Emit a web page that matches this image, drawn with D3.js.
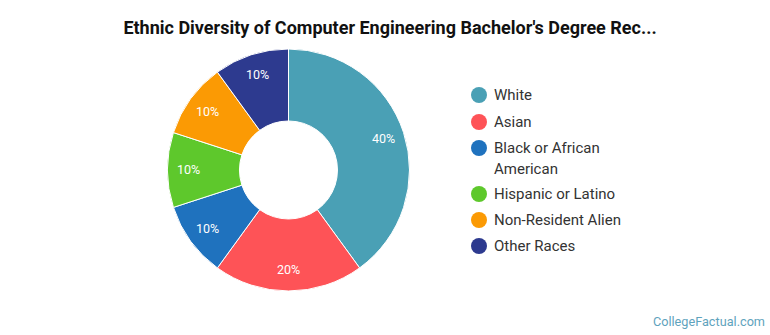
<!DOCTYPE html>
<html>
<head>
<meta charset="utf-8">
<script src="https://cdn.jsdelivr.net/npm/d3@7"></script>
<style>
  body { margin: 0; background: #fff; font-family: Roboto, "Open Sans", sans-serif; }
</style>
</head>
<body>
<div id="chart"></div>
<script>
// Chart data
var categories = ["White", "Asian", "Black or African American", "Hispanic or Latino", "Non-Resident Alien", "Other Races"];
var legendLines = [["White"], ["Asian"], ["Black or African", "American"], ["Hispanic or Latino"], ["Non-Resident Alien"], ["Other Races"]];
var shares = [40, 20, 10, 10, 10, 10];
var colors = ["#4aa0b5", "#fe5357", "#1f72be", "#5ec82c", "#fb9a04", "#2d3a8f"];

var svgWidth = 770;
var svgHeight = 335;

var svg = d3.select("#chart")
            .append("svg")
            .attr("width", svgWidth)
            .attr("height", svgHeight);

// Title
svg.append("text")
   .attr("x", 390)
   .attr("y", 34)
   .attr("text-anchor", "middle")
   .style("font-size", "18px")
   .style("font-weight", "bold")
   .style("fill", "#111")
   .text("Ethnic Diversity of Computer Engineering Bachelor's Degree Rec...");

// Donut
var cx = 288.5, cy = 170;
var outerR = 121, innerR = 49, labelR = 100;

var pie = d3.pie().sort(null).value(d => d);
var arc = d3.arc().innerRadius(innerR).outerRadius(outerR);
var labelArc = d3.arc().innerRadius(labelR).outerRadius(labelR);

var pieGroup = svg.append("g")
                  .attr("transform", `translate(${cx}, ${cy})`);

var arcs = pie(shares);

pieGroup.selectAll("path")
        .data(arcs)
        .enter()
        .append("path")
        .attr("d", arc)
        .attr("fill", (d, i) => colors[i])
        .attr("stroke", "#fff")
        .attr("stroke-width", 1);

pieGroup.selectAll("text.slice-label")
        .data(arcs)
        .enter()
        .append("text")
        .attr("class", "slice-label")
        .attr("transform", d => `translate(${labelArc.centroid(d)})`)
        .attr("text-anchor", "middle")
        .attr("dy", "0.35em")
        .style("font-size", "12.5px")
        .style("fill", "#fff")
        .text(d => d.data + "%");

// Legend
var legendYs = [95, 122, 148, 194, 220, 246];
var legend = svg.append("g");

legendLines.forEach(function(lines, i) {
    var row = legend.append("g")
                    .attr("transform", `translate(479, ${legendYs[i]})`);
    row.append("circle")
       .attr("r", 8)
       .attr("fill", colors[i]);
    var t = row.append("text")
               .attr("x", 15)
               .attr("y", 0)
               .style("font-size", "15px")
               .style("fill", "#333");
    lines.forEach(function(line, j) {
        t.append("tspan")
         .attr("x", 15)
         .attr("dy", j === 0 ? "0.35em" : "20.5px")
         .text(line);
    });
});

// Watermark
svg.append("text")
   .attr("x", 765)
   .attr("y", 326)
   .attr("text-anchor", "end")
   .style("font-size", "12.7px")
   .style("fill", "#5fa3bd")
   .text("CollegeFactual.com");
</script>
</body>
</html>
